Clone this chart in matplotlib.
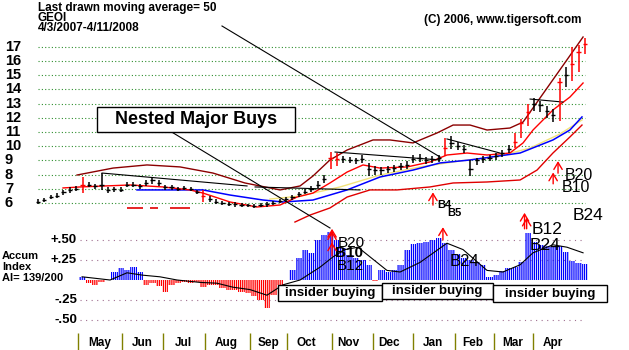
import numpy as np
import matplotlib.pyplot as plt
from matplotlib.patches import Rectangle

plt.rcParams['font.family'] = ['Liberation Sans', 'DejaVu Sans']
plt.rcParams['hatch.linewidth'] = 0.9

W, H = 629, 350

# daily price bars (one bar every 3 trading days)
bar_low = [5.95, 6.1, 6.25, 6.35, 6.55, 6.7, 6.85, 6.7, 7.1, 7.0,
           6.9, 6.7, 6.8, 6.75, 7.1, 7.15, 7.0, 7.2, 7.35, 7.2,
           6.95, 6.95, 6.85, 6.9, 6.85, 6.6, 6.1, 6.1, 5.95, 5.85,
           5.8, 5.75, 5.7, 5.7, 5.65, 5.7, 5.75, 5.85, 6.0, 6.1,
           6.2, 6.4, 6.6, 6.8, 7.05, 7.4, 8.4, 8.6, 8.8, 8.8,
           8.75, 8.8, 7.9, 8.0, 8.0, 8.1, 8.2, 8.3, 8.4, 8.8,
           8.9, 8.75, 8.85, 8.9, 9.3, 9.8, 9.7, 9.5, 7.9, 8.7,
           8.85, 8.95, 9.05, 9.25, 9.5, 9.9, 10.6, 11.4, 12.5, 12.4,
           12.0, 11.7, 11.8, 14.2, 14.6, 15.2, 16.5]
bar_high = [6.25, 6.35, 6.55, 6.7, 6.9, 7.1, 7.2, 7.8, 7.45, 7.35,
            8.1, 7.1, 7.15, 7.1, 7.5, 7.45, 7.35, 7.6, 7.8, 7.6,
            7.25, 7.25, 7.15, 7.2, 7.15, 6.95, 6.9, 6.5, 6.3, 6.15,
            6.1, 6.05, 6.0, 5.95, 5.95, 6.0, 6.05, 6.15, 6.3, 6.45,
            6.55, 6.8, 7.0, 7.2, 7.55, 8.0, 9.6, 9.5, 9.3, 9.25,
            9.2, 9.35, 8.8, 8.6, 8.55, 8.6, 8.7, 8.8, 8.95, 9.4,
            9.45, 9.25, 9.3, 9.4, 10.6, 10.7, 10.3, 10.1, 9.0, 9.2,
            9.3, 9.4, 9.5, 9.7, 10.1, 10.9, 11.9, 13.0, 13.4, 13.2,
            12.8, 12.6, 14.8, 15.6, 17.0, 17.1, 17.6]
bar_close = [6.1, 6.2, 6.45, 6.5, 6.75, 6.9, 7.0, 7.25, 7.3, 7.2,
             7.3, 6.9, 7.0, 6.95, 7.3, 7.3, 7.2, 7.4, 7.6, 7.4,
             7.1, 7.1, 7.0, 7.05, 7.0, 6.8, 6.5, 6.3, 6.1, 6.0,
             5.95, 5.9, 5.85, 5.85, 5.8, 5.85, 5.9, 6.0, 6.15, 6.3,
             6.4, 6.6, 6.8, 7.0, 7.3, 7.7, 9.2, 9.1, 9.1, 9.05,
             9.0, 9.1, 8.4, 8.3, 8.3, 8.4, 8.5, 8.6, 8.7, 9.1,
             9.2, 9.0, 9.1, 9.2, 9.9, 10.2, 10.0, 9.8, 8.4, 9.0,
             9.1, 9.2, 9.3, 9.5, 9.8, 10.3, 11.6, 12.4, 13.0, 12.9,
             12.5, 12.2, 14.5, 15.0, 15.8, 16.6, 17.2]
red_bars = [7, 26, 46, 47, 64, 75, 76, 77, 82, 84, 85, 86]

# bands and moving averages (trading day, price)
band_hi_day = [18.4, 35.4, 51.4, 67.0, 82.5, 97.6, 114.2, 123.6, 129.7, 137.7,
               145.8, 158.0, 166.0, 176.9, 188.2, 195.8, 203.8, 211.8, 222.6, 228.8, 257.1]
band_hi = [7.97, 8.46, 8.68, 8.54, 8.11, 7.41, 6.92, 7.20, 7.90, 9.03,
           9.73, 10.44, 10.44, 10.23, 10.93, 11.49, 11.49, 11.14, 11.28, 11.70, 17.69]

ma21_day = [11.8, 19.8, 43.4, 59.0, 71.7, 77.8, 90.6, 103.3, 114.2, 122.2, 129.7,
            137.7, 145.8, 153.3, 161.3, 174.1, 184.9, 192.9, 202.4, 211.8, 222.6,
            228.8, 233.5, 242.9, 250.9, 257.1]
ma21 = [7.06, 7.13, 7.27, 7.13, 6.92, 6.70, 6.07, 5.72, 5.86, 6.42, 6.70,
        7.41, 8.18, 8.68, 8.46, 8.54, 8.89, 9.38, 9.52, 9.38, 9.52,
        10.23, 11.14, 12.55, 13.46, 14.45]

ma50_day = [46.7, 67.0, 77.8, 90.6, 106.1, 115.6, 129.7, 145.8, 161.3, 176.9,
            189.6, 203.8, 227.4, 242.9, 250.9, 256.6]
ma50 = [6.92, 6.92, 6.92, 6.56, 6.21, 6.07, 6.21, 6.92, 7.83, 8.32,
        8.82, 9.03, 9.52, 10.44, 11.14, 12.06]

ma_y_day = [109.4, 123.6, 142.5, 161.3, 180.2, 199.1, 217.9, 232.1, 246.2, 256.6]
ma_y = [6.28, 6.49, 7.13, 7.97, 8.54, 8.96, 9.31, 9.87, 10.86, 11.85]

band_lo_day = [121.2, 128.3, 137.7, 145.8, 156.6, 169.3, 184.9, 195.8, 211.8,
               227.4, 235.4, 242.9, 250.9, 256.6]
band_lo = [4.66, 5.15, 5.65, 6.42, 6.92, 6.92, 7.13, 7.41, 7.48,
           7.62, 8.32, 9.52, 10.65, 11.49]
band_lo_dashes = [(42.0, 49.5), (53.0, 56.6), (62.3, 71.7)]
band_lo_dash_level = 5.65

# trend lines (day0, price0, day1, price1)
trend_lines = [(30.2, 8.11, 98.6, 7.20), (102.4, 7.13, 151.9, 6.92),
               (140.1, 9.59, 189.6, 9.03), (192.9, 10.51, 217.9, 9.52),
               (232.1, 13.32, 247.6, 13.11)]

# accumulation index, same spacing as the price bars starting at day 21
ai_vals = [0.04, -0.04, -0.06, -0.03, 0.0, 0.10, 0.15, 0.12, 0.16, 0.10,
           -0.06, -0.04, -0.07, -0.15, -0.06, -0.04, -0.03, -0.04, -0.03, -0.09,
           -0.06, -0.06, -0.10, -0.12, -0.12, -0.15, -0.16, -0.20, -0.25, -0.35,
           -0.19, -0.06, 0.0, 0.12, 0.28, 0.37, 0.34, 0.50, 0.56, 0.60,
           0.50, 0.40, 0.31, 0.28, 0.25, 0.19, -0.01, 0.12, 0.10, 0.12,
           0.19, 0.37, 0.45, 0.46, 0.48, 0.50, 0.53, 0.46, 0.37, 0.33,
           0.28, 0.25, 0.22, 0.19, 0.04, 0.06, 0.11, 0.15, 0.16, 0.22,
           0.59, 0.48, 0.44, 0.42, 0.41, 0.42, 0.35, 0.24, 0.21, 0.20]
ai_ma_day = [20.8, 34.0, 42.0, 49.5, 57.5, 65.6, 76.4, 84.4, 92.0, 100.0, 108.0,
             115.6, 123.6, 133.0, 139.2, 144.8, 150.9, 164.6, 170.8, 180.2, 192.9,
             200.5, 211.8, 219.3, 227.4, 233.5, 242.9, 249.5, 257.1]
ai_ma = [0.04, 0.0, 0.09, 0.06, 0.04, 0.0, -0.03, -0.04, -0.09, -0.12, -0.19,
         -0.06, 0.0, 0.16, 0.29, 0.38, 0.41, 0.12, 0.10, 0.22, 0.46,
         0.38, 0.12, 0.10, 0.19, 0.34, 0.44, 0.41, 0.34]

price_ticks = list(range(6, 18))
ai_ticks = [0.5, 0.25, -0.25, -0.5]
ai_tick_labels = ['+.50', '+.25', '-.25', '-.50']

months = ['May', 'Jun', 'Jul', 'Aug', 'Sep', 'Oct', 'Nov', 'Dec', 'Jan', 'Feb', 'Mar', 'Apr']
month_edges = [18.9, 39.6, 58.9, 78.8, 99.9, 117.5, 138.7, 158.0, 176.9, 196.7, 215.1, 233.5]
month_centers = [29.2, 49.1, 68.4, 88.7, 108.5, 126.4, 146.2, 165.6, 186.3, 205.2, 224.1, 242.9]

# day axis: 2.12 px per trading day, first bar at x=38
x0_px, px_per_day = 38, 2.12
xlim = (-x0_px / px_per_day, (W - x0_px) / px_per_day)

fig = plt.figure(figsize=(W / 100, H / 100), dpi=100)
fig.patch.set_facecolor('white')

ax_p = fig.add_axes([0, 0, 1, 1])
ax_p.set_xlim(xlim)
ax_p.set_ylim(6 - (H - 203) / 14.2, 6 + 203 / 14.2)
ax_p.axis('off')

ax_a = fig.add_axes([0, 0, 1, 1])
ax_a.set_xlim(xlim)
ax_a.set_ylim((280 - H) / 80, 280 / 80)
ax_a.axis('off')
ax_a.patch.set_alpha(0)

# price grid and labels
for v in price_ticks:
    ax_p.hlines(v, 0, 258, colors='#2f8f2f', linestyles=(0, (1, 2)), lw=0.8, zorder=1)
    ax_p.text(-15.6, v, str(v), ha='left', va='center', fontsize=10.5, fontweight='bold')

# bands / averages
ax_p.plot(band_hi_day, band_hi, color='#8b0000', lw=1.0, zorder=2)
ax_p.plot(ma_y_day, ma_y, color='#f2e27a', lw=1.0, zorder=2)
ax_p.plot(ma50_day, ma50, color='#0000ff', lw=1.1, zorder=2)
ax_p.plot(ma21_day, ma21, color='#ff0000', lw=1.0, zorder=2)
ax_p.plot(band_lo_day, band_lo, color='#e00000', lw=1.0, zorder=2)
for d0, d1 in band_lo_dashes:
    ax_p.hlines(band_lo_dash_level, d0, d1, colors='#e00000', lw=1.2, zorder=2)
for d0, p0, d1, p1 in trend_lines:
    ax_p.plot([d0, d1], [p0, p1], color='black', lw=0.8, zorder=2)

# price bars
bar_day = np.arange(len(bar_close)) * 3
colors = ['red' if k in red_bars else 'black' for k in range(len(bar_close))]
ax_p.vlines(bar_day, bar_low, bar_high, colors=colors, lw=1.1, zorder=3)
ax_p.hlines(bar_close, bar_day - 1.0, bar_day + 1.0, colors=colors, lw=1.0, zorder=3)

# accumulation index
ai = np.array(ai_vals)
ai_day = 21 + np.arange(len(ai)) * 3
pos = ai >= 0
ax_a.bar(ai_day[pos], ai[pos], width=3, facecolor='none', edgecolor='#0000ff',
         hatch='|' * 8, lw=0, zorder=2)
ax_a.bar(ai_day[~pos], ai[~pos], width=3, facecolor='none', edgecolor='#ff0000',
         hatch='|' * 8, lw=0, zorder=2)
ax_a.plot(ai_ma_day, ai_ma, color='black', lw=0.8, zorder=3)

for v, lab in zip(ai_ticks, ai_tick_labels):
    ax_a.hlines(v, 19.8, 258, colors='#a07090', linestyles=(0, (1, 4)), lw=0.8, zorder=1)
    ax_a.text(18.4, v, lab, ha='right', va='center', fontsize=9.5, fontweight='bold')
for y_px, lab in [(256, 'Accum'), (267, 'Index'), (278, 'AI= 139/200')]:
    ax_a.text(-17.0, (280 - y_px) / 80, lab, ha='left', va='center',
              fontsize=8, fontweight='bold')

# month axis
ax_a.vlines(month_edges, (280 - 333) / 80, (280 - H) / 80, colors='#808000', lw=1.0)
for c, m in zip(month_centers, months):
    ax_a.text(c, (280 - 343) / 80, m, ha='center', va='center', fontsize=8.5, fontweight='bold')

# buy signals
arr = dict(arrowstyle='->,head_length=0.5,head_width=0.3', color='red', lw=1.0,
           mutation_scale=10, shrinkA=0, shrinkB=0)
for d, p0, p1 in [(186.3, 5.85, 6.75), (243.0, 7.35, 8.15), (245.3, 8.1, 8.95)]:
    ax_p.annotate('', xy=(d, p1), xytext=(d, p0), arrowprops=arr, zorder=4)
for d, a0, a1 in [(138.7, 0.30, 0.47), (138.7, 0.44, 0.61), (138.7, 0.56, 0.64),
                  (191.0, 0.50, 0.66), (229.5, 0.64, 0.84), (230.5, 0.64, 0.78)]:
    ax_a.annotate('', xy=(d, a1), xytext=(d, a0), arrowprops=arr, zorder=4)

ax_p.text(188.5, 6 - 2 / 14.2, 'B4', fontsize=8, fontweight='bold', va='center')
ax_p.text(193.2, 6 - 10 / 14.2, 'B5', fontsize=8, fontweight='bold', va='center')
ax_p.text(248.6, 6 + 27 / 14.2, 'B20', fontsize=11.5, va='center')
ax_p.text(247.2, 6 + 15 / 14.2, 'B10', fontsize=11.5, va='center')
ax_p.text(252.4, 6 - 12 / 14.2, 'B24', fontsize=12.5, va='center')

ax_a.text(141.5, (280 - 243) / 80, 'B20', fontsize=11, va='center')
ax_a.text(140.1, (280 - 253) / 80, 'B10', fontsize=11, fontweight='bold', va='center')
ax_a.text(141.0, (280 - 266) / 80, 'B12', fontsize=11, va='center')
ax_a.text(194.3, (280 - 262) / 80, 'B24', fontsize=12, va='center')
ax_a.text(233.0, (280 - 230) / 80, 'B12', fontsize=12.5, va='center')
ax_a.text(232.1, (280 - 245) / 80, 'B24', fontsize=12.5, va='center')

# header text
fig.text(38 / W, 1 - 2 / H, 'Last drawn moving average= 50', ha='left', va='top',
         fontsize=8.5, fontweight='bold')
fig.text(38 / W, 1 - 12 / H, 'GEOI\n4/3/2007-4/11/2008', ha='left', va='top',
         fontsize=8.5, fontweight='bold', linespacing=0.8)
fig.text(582 / W, 1 - 14 / H, '(C) 2006, www.tigersoft.com', ha='right', va='top',
         fontsize=8.5, fontweight='bold')

# annotation boxes and pointer lines
def box(x, y, w, h, label, size):
    fig.patches.append(Rectangle((x / W, 1 - (y + h) / H), w / W, h / H,
                                 transform=fig.transFigure, fc='white', ec='black', lw=1.0, zorder=5))
    fig.text((x + w / 2) / W, 1 - (y + h / 2) / H, label, ha='center', va='center',
             fontsize=size, fontweight='bold', zorder=6)

for xa, ya, xb, yb in [(170, 131, 330, 228), (222, 26, 440, 157)]:
    fig.add_artist(plt.Line2D([xa / W, xb / W], [1 - ya / H, 1 - yb / H],
                              transform=fig.transFigure, color='black', lw=0.8))

box(97, 107, 198, 25, 'Nested Major Buys', 13)
box(278, 285, 104, 16, 'insider buying', 9.5)
box(382, 283, 111, 16, 'insider buying', 9.5)
box(493, 285, 114, 17, 'insider buying', 9.5)

fig.savefig('out.png', dpi=100)
